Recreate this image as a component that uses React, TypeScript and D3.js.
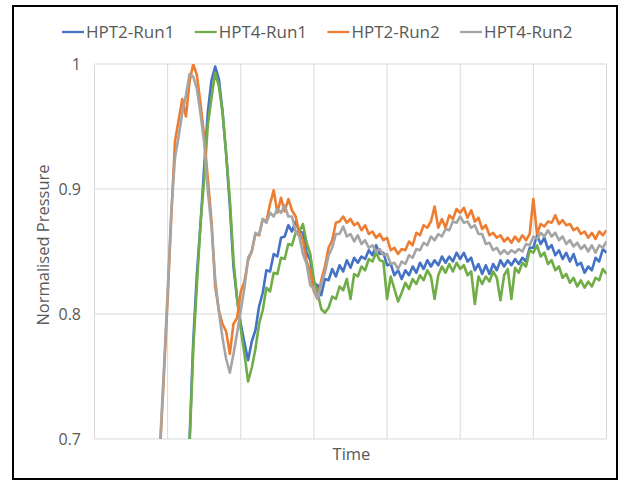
import React from "react";
import * as d3 from "d3";

// Sampling: one reading every 0.05 time units starting at t = 0.8
const sampleStart = 0.8;
const sampleStep = 0.05;

const seriesNames = ["HPT2-Run1", "HPT4-Run1", "HPT2-Run2", "HPT4-Run2"];
const seriesColors = ["#4472C4", "#70AD47", "#ED7D31", "#A5A5A5"];

const hpt2Run1: (number | null)[] = [
  null, null, null, null, null, null, null, null, null,
  0.66, 0.70, 0.778, 0.832, 0.872, 0.918, 0.962, 0.987, 0.998, 0.988,
  0.962, 0.928, 0.887, 0.838, 0.812, 0.792, 0.777, 0.763, 0.778, 0.787,
  0.806, 0.817, 0.835, 0.834, 0.848, 0.846, 0.861, 0.862, 0.871, 0.866,
  0.874, 0.866, 0.865, 0.849, 0.843, 0.825, 0.823, 0.815, 0.828, 0.827,
  0.836, 0.83, 0.839, 0.834, 0.843, 0.837, 0.845, 0.841, 0.846, 0.844,
  0.851, 0.847, 0.855, 0.848, 0.849, 0.839, 0.84, 0.831, 0.835, 0.828,
  0.835, 0.831, 0.838, 0.833, 0.841, 0.836, 0.843, 0.838, 0.843, 0.839,
  0.846, 0.841, 0.846, 0.842, 0.849, 0.844, 0.849, 0.842, 0.845, 0.835,
  0.84, 0.832, 0.839, 0.832, 0.84, 0.835, 0.843, 0.838, 0.843, 0.839,
  0.844, 0.84, 0.845, 0.842, 0.853, 0.853, 0.863, 0.856, 0.861, 0.852,
  0.855, 0.847, 0.851, 0.844, 0.849, 0.842, 0.848, 0.839, 0.841, 0.833,
  0.838, 0.835, 0.845, 0.842, 0.852, 0.849,
];

const hpt4Run1: (number | null)[] = [
  null, null, null, null, null, null, null, null, null,
  0.62, 0.695, 0.772, 0.823, 0.873, 0.908, 0.952, 0.973, 0.993, 0.982,
  0.962, 0.928, 0.892, 0.843, 0.812, 0.788, 0.768, 0.746, 0.757, 0.772,
  0.792, 0.803, 0.821, 0.818, 0.833, 0.832, 0.845, 0.844, 0.856, 0.855,
  0.865, 0.866, 0.872, 0.857, 0.848, 0.827, 0.817, 0.804, 0.801, 0.805,
  0.814, 0.812, 0.822, 0.819, 0.828, 0.812, 0.832, 0.83, 0.838, 0.835,
  0.844, 0.842, 0.849, 0.843, 0.842, 0.812, 0.83, 0.82, 0.81, 0.817,
  0.825, 0.82, 0.828, 0.824, 0.831, 0.827, 0.835, 0.83, 0.812, 0.831,
  0.838, 0.833, 0.84, 0.834, 0.841, 0.836, 0.839, 0.831, 0.834, 0.808,
  0.83, 0.824, 0.83, 0.826, 0.834, 0.829, 0.811, 0.831, 0.836, 0.812,
  0.837, 0.833, 0.841, 0.838, 0.851, 0.849, 0.855, 0.846, 0.849, 0.84,
  0.843, 0.835, 0.838, 0.829, 0.832, 0.825, 0.829, 0.822, 0.827, 0.821,
  0.826, 0.822, 0.829, 0.827, 0.836, 0.832,
];

const hpt2Run2: (number | null)[] = [
  0.62, 0.66, 0.695, 0.752, 0.812, 0.878, 0.938, 0.955, 0.972, 0.958,
  0.986, 1.0, 0.991, 0.968, 0.942, 0.908, 0.874, 0.822, 0.803, 0.792,
  0.786, 0.768, 0.792, 0.797, 0.818, 0.826, 0.843, 0.85, 0.864, 0.863,
  0.876, 0.874, 0.888, 0.899, 0.881, 0.893, 0.882, 0.892, 0.883, 0.878,
  0.865, 0.859, 0.842, 0.834, 0.818, 0.812, 0.827, 0.838, 0.853, 0.859,
  0.873, 0.874, 0.878, 0.873, 0.876, 0.871, 0.873, 0.867, 0.871, 0.864,
  0.866, 0.861, 0.864, 0.859, 0.861, 0.851, 0.853, 0.848, 0.852, 0.851,
  0.858, 0.855, 0.865, 0.863, 0.871, 0.869, 0.874, 0.886, 0.869, 0.876,
  0.869, 0.879, 0.876, 0.884, 0.881, 0.885, 0.877, 0.883, 0.874, 0.877,
  0.868, 0.871, 0.863, 0.865, 0.861, 0.863, 0.858, 0.861, 0.857, 0.862,
  0.858, 0.863, 0.859, 0.864, 0.892, 0.864, 0.872, 0.87, 0.874, 0.873,
  0.879, 0.872, 0.875, 0.871, 0.872, 0.867, 0.869, 0.864, 0.866, 0.861,
  0.865, 0.86, 0.866, 0.863, 0.867,
];

const hpt4Run2: (number | null)[] = [
  0.62, 0.66, 0.70, 0.757, 0.818, 0.882, 0.925, 0.942, 0.961, 0.975,
  0.992, 0.99, 0.98, 0.96, 0.937, 0.898, 0.87, 0.828, 0.802, 0.781,
  0.764, 0.753, 0.768, 0.785, 0.803, 0.821, 0.845, 0.85, 0.865, 0.863,
  0.876, 0.873, 0.881, 0.878, 0.884, 0.881, 0.887, 0.878, 0.878, 0.866,
  0.862, 0.848, 0.84, 0.823, 0.82, 0.812, 0.824, 0.833, 0.847, 0.853,
  0.864, 0.864, 0.87, 0.862, 0.864, 0.858, 0.863, 0.856, 0.859, 0.853,
  0.855, 0.85, 0.852, 0.847, 0.848, 0.84, 0.841, 0.836, 0.842, 0.84,
  0.847, 0.845, 0.852, 0.851, 0.857, 0.855, 0.862, 0.859, 0.864, 0.862,
  0.868, 0.867, 0.874, 0.873, 0.878, 0.873, 0.874, 0.869, 0.871, 0.864,
  0.864, 0.856, 0.857, 0.851, 0.853, 0.848, 0.851, 0.848, 0.851, 0.849,
  0.852, 0.85, 0.856, 0.855, 0.862, 0.86, 0.865, 0.862, 0.867, 0.862,
  0.865, 0.859, 0.862, 0.856, 0.859, 0.854, 0.857, 0.852, 0.855, 0.85,
  0.855, 0.849, 0.855, 0.853, 0.858,
];

const seriesValues = [hpt2Run1, hpt4Run1, hpt2Run2, hpt4Run2];

const yTicks = [0.7, 0.8, 0.9, 1];
const yTickLabels = ["0.7", "0.8", "0.9", "1"];
const xGrid = [0, 1, 2, 3, 4, 5, 6, 7];

const W = 624;
const H = 482;
const plot = { left: 94.5, right: 606.5, top: 64, bottom: 439 };
const font = "'Open Sans', 'Liberation Sans', sans-serif";
const textColor = "#595959";
const gridColor = "#D9D9D9";

export default function App() {
  const x = d3.scaleLinear().domain([0, 7]).range([plot.left, plot.right]);
  const y = d3.scaleLinear().domain([0.7, 1]).range([plot.bottom, plot.top]);

  const line = d3
    .line<number | null>()
    .defined((d) => d !== null)
    .x((_, i) => x(sampleStart + i * sampleStep))
    .y((d) => y(d as number));

  const legendStart = 62;
  const legendGap = 132.7;
  const legendY = 32;

  return (
    <svg
      width={W}
      height={H}
      viewBox={`0 0 ${W} ${H}`}
      style={{ position: "absolute", left: 0, top: 0, display: "block", background: "#fff" }}
    >
      <defs>
        <clipPath id="plot-clip">
          <rect x={plot.left} y={plot.top} width={plot.right - plot.left} height={plot.bottom - plot.top} />
        </clipPath>
      </defs>
      <rect x={0} y={0} width={W} height={H} fill="#fff" />
      <rect x={13} y={6} width={604} height={473} fill="#fff" stroke="#000" strokeWidth={2} />

      {/* gridlines */}
      {yTicks.map((t) => (
        <line key={`h${t}`} x1={plot.left} x2={plot.right} y1={y(t)} y2={y(t)} stroke={gridColor} strokeWidth={1} />
      ))}
      {xGrid.map((t) => (
        <line key={`v${t}`} x1={x(t)} x2={x(t)} y1={plot.top} y2={plot.bottom} stroke={gridColor} strokeWidth={1} />
      ))}

      {/* y tick labels */}
      {yTicks.map((t, i) => (
        <text
          key={`yl${t}`}
          x={81}
          y={y(t)}
          dy="0.35em"
          textAnchor="end"
          fontFamily={font}
          fontSize={16}
          fill={textColor}
        >
          {yTickLabels[i]}
        </text>
      ))}

      {/* series */}
      <g clipPath="url(#plot-clip)">
        {seriesValues.map((vals, i) => (
          <path
            key={seriesNames[i]}
            d={line(vals) ?? ""}
            fill="none"
            stroke={seriesColors[i]}
            strokeWidth={2.6}
            strokeLinejoin="round"
          />
        ))}
      </g>

      {/* axis titles */}
      <text
        x={351.5}
        y={460}
        textAnchor="middle"
        fontFamily={font}
        fontSize={16.5}
        fill={textColor}
      >
        Time
      </text>
      <text
        transform={`translate(49, 245) rotate(-90)`}
        textAnchor="middle"
        fontFamily={font}
        fontSize={16.5}
        fill={textColor}
      >
        Normalised Pressure
      </text>

      {/* legend */}
      {seriesNames.map((name, i) => {
        const lx = legendStart + i * legendGap;
        return (
          <g key={`lg${name}`}>
            <line x1={lx} x2={lx + 22} y1={legendY} y2={legendY} stroke={seriesColors[i]} strokeWidth={2.25} />
            <text
              x={lx + 24}
              y={legendY}
              dy="0.35em"
              fontFamily={font}
              fontSize={17}
              fill={textColor}
            >
              {name}
            </text>
          </g>
        );
      })}
    </svg>
  );
}
